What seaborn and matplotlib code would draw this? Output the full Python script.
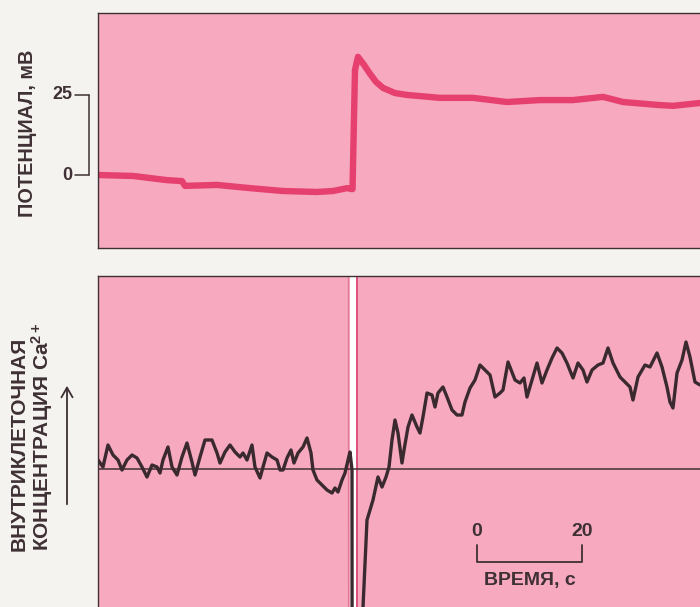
import numpy as np
import pandas as pd
import matplotlib
matplotlib.use("Agg")
import matplotlib.pyplot as plt
import seaborn as sns

# Membrane potential trace: time (s) and potential (mV)
pot_time = [0.0, 6.67, 13.14, 16.0, 16.57, 22.67, 28.95, 35.24, 41.71, 44.76,
            47.43, 48.38, 48.48, 48.95, 49.52, 50.67, 51.81, 52.95, 54.29,
            56.57, 58.86, 65.14, 71.43, 77.90, 84.19, 90.48, 96.19, 100.0,
            106.48, 109.52, 114.67]
pot_mv = [0.0, -0.3, -1.6, -1.9, -3.4, -3.1, -4.1, -5.0, -5.3, -5.0,
          -4.1, -4.4, -4.4, 32.8, 36.9, 34.4, 31.6, 29.1, 27.2,
          25.6, 25.0, 24.1, 24.1, 22.8, 23.4, 23.4, 24.4, 22.8,
          21.9, 21.6, 22.5]

# Intracellular Ca2+ trace: time (s) and relative concentration (arb. units)
ca_time = [0.0, 0.95, 1.9, 2.86, 3.81, 4.57, 5.52, 6.48, 7.43, 8.38, 9.33,
           10.29, 11.24, 11.81, 12.38, 13.33, 14.10, 15.05, 16.0, 16.95,
           17.9, 18.48, 19.43, 20.38, 21.71, 22.67, 23.24, 24.19, 25.14,
           26.10, 27.05, 27.62, 28.38, 29.33, 29.90, 30.86, 31.43, 32.19,
           33.14, 34.10, 34.67, 35.24, 36.0, 36.76, 37.33, 38.10, 39.05,
           39.81, 40.57, 40.95, 41.71, 42.67, 43.62, 44.57, 45.14, 45.71,
           46.48, 47.05, 47.62, 48.0, 48.38, 48.40, 50.29, 50.48, 51.24,
           52.38, 53.33, 54.10, 54.86, 55.43, 56.0, 56.57, 57.14, 57.90,
           58.29, 59.05, 59.81, 60.76, 61.33, 61.90, 62.67, 63.62, 64.19,
           64.76, 65.71, 66.48, 67.43, 68.38, 69.33, 69.90, 70.86, 71.81,
           72.76, 73.71, 74.67, 75.62, 76.57, 77.14, 78.10, 79.43, 80.38,
           81.14, 81.71, 82.67, 83.62, 84.57, 85.52, 86.48, 87.43, 88.38,
           89.33, 90.48, 91.43, 92.38, 93.14, 94.10, 95.24, 96.19, 97.14,
           98.10, 99.43, 100.38, 101.33, 101.90, 102.86, 104.19, 105.14,
           106.48, 107.43, 108.38, 108.95, 109.52, 110.29, 111.24, 112.0,
           112.76, 113.71, 114.67]
ca_level = [0.9, 0.2, 2.4, 1.4, 0.9, -0.1, 0.9, 1.4, 1.1, 0.2, -0.8,
            0.4, 0.2, -0.4, 0.9, 2.2, 0.2, -0.6, 1.2, 2.6,
            0.7, -0.6, 1.2, 2.9, 2.9, 1.6, 0.6, 1.7, 2.4,
            1.7, 1.2, 1.6, 0.9, 2.4, 0.2, -0.9, 0.2, 1.6,
            1.2, 0.9, -0.1, -0.1, 1.1, 1.9, 0.6, 1.6, 2.2,
            3.1, 1.6, -0.1, -1.1, -1.6, -2.1, -2.4, -1.9, -2.3,
            -1.1, -0.4, 0.9, 1.7, -0.1, -20.0, -20.0, -13.8, -5.1,
            -3.1, -0.8, -1.8, -0.8, 0.2, 2.9, 4.9, 3.6, 0.6,
            1.9, 4.2, 5.4, 4.2, 3.6, 5.2, 7.6, 7.4, 6.2,
            7.6, 8.2, 7.2, 5.9, 5.4, 5.4, 6.7, 8.1, 8.9,
            10.4, 9.9, 9.4, 7.2, 7.6, 7.9, 10.7, 8.9, 8.6,
            9.1, 7.2, 8.9, 10.6, 8.6, 9.9, 11.1, 12.1, 11.6,
            10.6, 9.1, 10.6, 9.9, 8.7, 9.9, 10.4, 10.6, 12.1,
            10.6, 9.2, 8.7, 8.2, 6.9, 9.2, 10.4, 10.2,
            11.6, 10.2, 8.2, 6.7, 6.1, 9.6, 10.9, 12.7,
            11.2, 8.7, 8.4]

pot_ticks = [0, 25]
pot_tick_labels = ["0", "25"]
ca_baseline = 0.0
gap_start, gap_end = 48.0, 49.14      # blank interval in the Ca2+ record (s)
scale_start, scale_len = 72.2, 20     # time scale bar (s)

BG = "#f5f3ef"
PANEL = "#f7a9c0"
TRACE_RED = "#e6416e"
INK = "#3e3034"

sns.set_theme(style="white")
plt.rcParams["font.family"] = ["Liberation Sans", "DejaVu Sans"]
plt.rcParams["mathtext.fontset"] = "custom"
plt.rcParams["mathtext.rm"] = "Liberation Sans:bold"
plt.rcParams["mathtext.it"] = "Liberation Sans:bold"
plt.rcParams["mathtext.bf"] = "Liberation Sans:bold"

fig = plt.figure(figsize=(7.0, 6.07), dpi=100, facecolor=BG)
W, H = 700.0, 607.0
ax1 = fig.add_axes([98 / W, 1 - 248 / H, 602 / W, 235 / H])
ax2 = fig.add_axes([98 / W, 0.0, 602 / W, 1 - 276 / H])

xmax = 602 / 5.25

# ---- top panel: membrane potential ----
ax1.set_facecolor(PANEL)
df_pot = pd.DataFrame({"t": pot_time, "v": pot_mv})
sns.lineplot(data=df_pot, x="t", y="v", ax=ax1, color=TRACE_RED,
             linewidth=4.6, sort=False, estimator=None)
ax1.set_xlim(0, xmax)
ax1.set_ylim(-22.8, 50.6)
ax1.set_xticks([])
ax1.set_yticks([])
ax1.set_xlabel("")
ax1.set_ylabel("")
for side in ["left", "top", "bottom"]:
    ax1.spines[side].set_visible(True)
    ax1.spines[side].set_color(INK)
    ax1.spines[side].set_linewidth(1.0)
ax1.spines["right"].set_visible(False)

# bracket-style potential scale to the left of the panel
ytr = ax1.get_yaxis_transform()
bx = (89 - 98) / 602
tx0 = (75 - 98) / 602
ax1.plot([bx, bx], [pot_ticks[0], pot_ticks[1]], transform=ytr,
         color=INK, lw=1.1, clip_on=False)
for tv, tl in zip(pot_ticks, pot_tick_labels):
    ax1.plot([tx0, bx], [tv, tv], transform=ytr, color=INK, lw=1.1,
             clip_on=False)
    ax1.text((72 - 98) / 602, tv, tl, transform=ytr, ha="right",
             va="center", fontsize=13, fontweight="bold", color=INK)

# ---- bottom panel: intracellular Ca2+ ----
ax2.set_facecolor(PANEL)
ax2.axvspan(gap_start, gap_end, color="white", lw=0, zorder=1)
ax2.axvline(47.62, color="#e57896", lw=0.9, zorder=1)
ax2.axvline(49.33, color="#d8426e", lw=1.2, zorder=1)
ax2.axhline(ca_baseline, color=INK, lw=1.1, zorder=2)
df_ca = pd.DataFrame({"t": ca_time, "c": ca_level})
sns.lineplot(data=df_ca, x="t", y="c", ax=ax2, color="#3a2a30",
             linewidth=2.4, sort=False, estimator=None, zorder=3)
ax2.set_xlim(0, xmax)
ax2.set_ylim(-13.8, 19.3)
ax2.set_xticks([])
ax2.set_yticks([])
ax2.set_xlabel("")
ax2.set_ylabel("")
for side in ["left", "top"]:
    ax2.spines[side].set_visible(True)
    ax2.spines[side].set_color(INK)
    ax2.spines[side].set_linewidth(1.0)
ax2.spines["right"].set_visible(False)
ax2.spines["bottom"].set_visible(False)

# time scale bar
s0, s1 = scale_start, scale_start + scale_len
ax2.plot([s0, s0, s1, s1], [-7.6, -9.3, -9.3, -7.6], color=INK, lw=1.3,
         zorder=3)
ax2.text(s0, -6.3, "0", ha="center", va="center", fontsize=14,
         fontweight="bold", color=INK)
ax2.text(s1, -6.3, str(scale_len), ha="center", va="center", fontsize=14,
         fontweight="bold", color=INK)
ax2.text((s0 + s1) / 2, -11.1, "ВРЕМЯ, с", ha="center", va="center",
         fontsize=14, fontweight="bold", color=INK)

# ---- axis titles on the left ----
fig.text(28 / W, 1 - 133.5 / H, "ПОТЕНЦИАЛ, мВ", rotation=90, ha="center",
         va="center", fontsize=14.3, fontweight="bold", color=INK)
fig.text(19 / W, 1 - 444 / H, "ВНУТРИКЛЕТОЧНАЯ", rotation=90, ha="center",
         va="center", fontsize=15, fontweight="bold", color=INK)
fig.text(42 / W, 1 - 437 / H, r"КОНЦЕНТРАЦИЯ Ca$^{2+}$", rotation=90,
         ha="center", va="center", fontsize=15, fontweight="bold", color=INK)
fig.add_artist(matplotlib.patches.FancyArrowPatch(
    (67 / W, 1 - 507 / H), (67 / W, 1 - 383 / H), transform=fig.transFigure,
    arrowstyle="->,head_length=7,head_width=4", color=INK, lw=1.3))

fig.savefig("out.png", dpi=100, facecolor=BG)
